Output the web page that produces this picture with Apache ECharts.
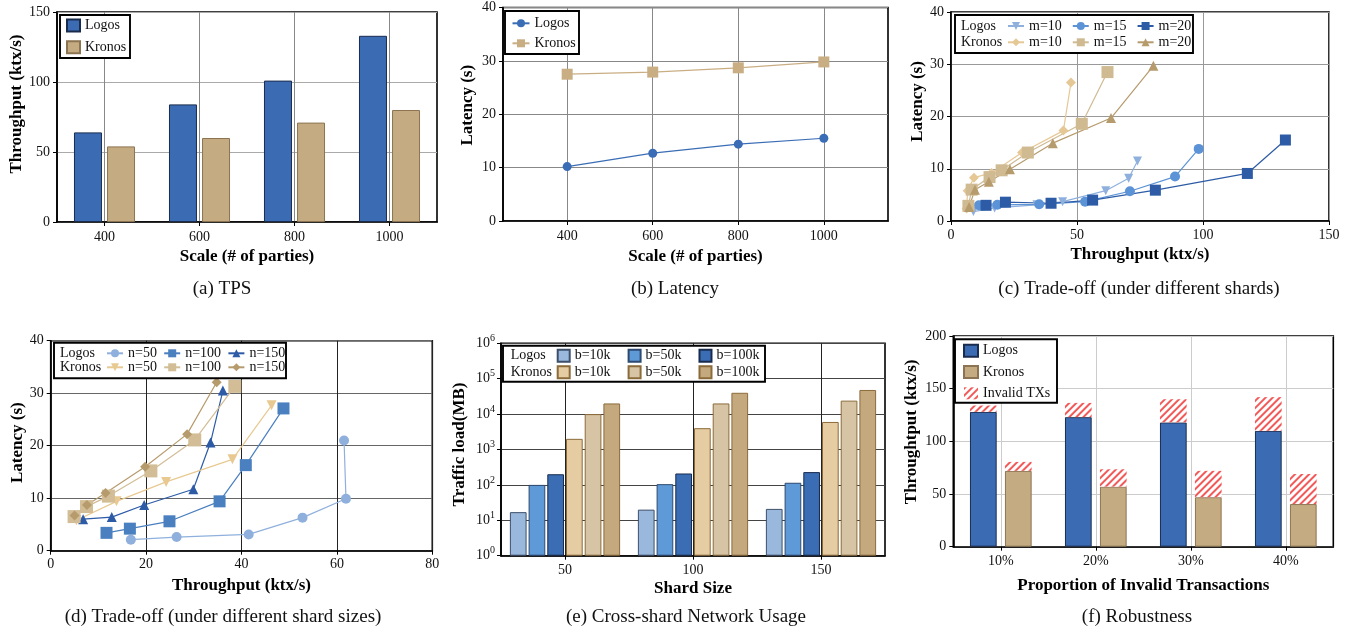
<!DOCTYPE html>
<html><head><meta charset="utf-8">
<script src="https://cdn.jsdelivr.net/npm/echarts@6/dist/echarts.min.js"></script>
<style>html,body{margin:0;padding:0;background:#fff}#c{width:1353px;height:632px}</style>
</head><body><div id="c"></div>
<script>
// ---------- (a) TPS ----------
const scaleCats = ['400', '600', '800', '1000'];
const tpsLogos = [64, 84, 101, 133];
const tpsKronos = [54, 60, 71, 80];
// ---------- (b) Latency ----------
const scaleVals = [400, 600, 800, 1000];
const latLogos = [10.2, 12.7, 14.4, 15.5];
const latKronos = [27.5, 27.9, 28.7, 29.8];
// ---------- (c) Trade-off (shards) [throughput, latency] ----------
const cLogosM10 = [[8.9, 1.8], [17.3, 2.5], [34.1, 3.1], [44.3, 3.7], [61.4, 5.8], [70.5, 8.2], [74.0, 11.5]];
const cLogosM15 = [[11.1, 3.0], [18.4, 3.1], [35.0, 3.2], [53.2, 3.7], [71.0, 5.7], [88.9, 8.5], [98.3, 13.8]];
const cLogosM20 = [[13.9, 3.0], [21.6, 3.6], [39.7, 3.4], [56.2, 4.0], [81.1, 5.9], [117.6, 9.1], [132.7, 15.5]];
const cKronosM10 = [[6.2, 2.4], [6.6, 5.8], [9.1, 8.3], [16.1, 9.2], [28.2, 13.1], [44.6, 17.3], [47.6, 26.5]];
const cKronosM15 = [[6.9, 2.9], [8.2, 6.0], [15.3, 8.4], [20.1, 9.7], [30.5, 13.1], [51.9, 18.6], [62.1, 28.5]];
const cKronosM20 = [[7.2, 2.7], [9.5, 6.0], [15.0, 7.5], [23.4, 9.9], [40.4, 14.9], [63.5, 19.7], [80.3, 29.7]];
// ---------- (d) Trade-off (shard sizes) ----------
const dLogosN50 = [[16.8, 2.1], [26.4, 2.6], [41.5, 3.1], [52.8, 6.3], [61.9, 9.9], [61.5, 21.0]];
const dLogosN100 = [[11.7, 3.4], [16.6, 4.2], [24.9, 5.6], [35.4, 9.4], [40.9, 16.3], [48.8, 27.1]];
const dLogosN150 = [[6.8, 6.0], [12.8, 6.4], [19.6, 8.7], [29.9, 11.7], [33.5, 20.6], [36.1, 30.5]];
const dKronosN50 = [[5.4, 5.8], [13.8, 9.4], [24.2, 13.1], [38.1, 17.4], [46.3, 27.7]];
const dKronosN100 = [[4.9, 6.5], [7.5, 8.4], [12.1, 10.4], [21.0, 15.2], [30.2, 21.1], [38.6, 31.3]];
const dKronosN150 = [[5.0, 6.7], [7.6, 8.7], [11.5, 11.0], [19.8, 16.0], [28.6, 22.2], [34.8, 32.1]];
// ---------- (e) Cross-shard network usage (MB) ----------
const shardCats = ['50', '100', '150'];
const eLogos10k = [17, 20, 21];
const eLogos50k = [100, 105, 115];
const eLogos100k = [200, 210, 230];
const eKronos10k = [2000, 4000, 6000];
const eKronos50k = [10000, 20000, 24000];
const eKronos100k = [20000, 40000, 48000];
// ---------- (f) Robustness ----------
const invalidCats = ['10%', '20%', '30%', '40%'];
const fLogos = [128, 123, 118, 110];
const fKronos = [72, 57, 47, 40.5];
const fLogosInvalid = [6, 13.5, 22, 32];
const fKronosInvalid = [8.5, 16.5, 25, 28.5];

const FONT = 'Liberation Serif';
const labelStyle = { fontFamily: FONT, fontSize: 14, color: '#111' };
const nameStyle = { fontFamily: FONT, fontSize: 17, fontWeight: 'bold', color: '#000' };
const tick = { show: true, inside: false, length: 4, lineStyle: { color: '#000', width: 1 } };
const axLine = { show: true, onZero: false, lineStyle: { color: '#000', width: 1.6 } };

const C = {
  logos: '#3b6cb3', logosB: '#1a2c4e', kronos: '#c4ab81', kronosB: '#8c7452',
  lb1: '#8fb0dc', lb2: '#5b93d6', lb3: '#2d5ba6',
  kt1: '#e6c896', kt2: '#cfba92', kt3: '#b69b6d'
};
const triDown = 'path://M0,0 L10,0 L5,9 Z';

const grids = [
  { left: 57, top: 12, width: 380, height: 210 },
  { left: 503, top: 7.5, width: 385, height: 213.5 },
  { left: 951, top: 12, width: 378, height: 209 },
  { left: 50.7, top: 340.7, width: 381.6, height: 210 },
  { left: 501, top: 343.3, width: 384, height: 212.4 },
  { left: 953.3, top: 336, width: 380, height: 210.7 }
].map(g => Object.assign({ show: true, borderColor: '#000', borderWidth: 1.6, containLabel: false }, g));

const plain = v => String(v);
function valAxis(idx, min, max, interval, name, gap, split, extra) {
  return Object.assign({
    type: 'value', gridIndex: idx, min: min, max: max, interval: interval,
    name: name, nameLocation: 'middle', nameGap: gap, nameTextStyle: nameStyle,
    axisLine: axLine, axisTick: tick, axisLabel: Object.assign({ margin: 7, formatter: plain }, labelStyle),
    splitLine: { show: true, lineStyle: { color: split, width: 1 } }
  }, extra || {});
}
function catAxis(idx, data, name, gap, split) {
  return {
    type: 'category', gridIndex: idx, data: data,
    name: name, nameLocation: 'middle', nameGap: gap, nameTextStyle: nameStyle,
    axisLine: axLine, axisTick: Object.assign({ alignWithLabel: true }, tick),
    axisLabel: Object.assign({ margin: 8 }, labelStyle),
    splitLine: { show: true, alignWithLabel: true, lineStyle: { color: split, width: 1 } }
  };
}
function yNamePad(p) { return Object.assign({}, nameStyle, { padding: [0, 0, 0, p] }); }

const xAxes = [
  catAxis(0, scaleCats, 'Scale (# of parties)', 26, '#888'),
  valAxis(1, 250, 1150, null, 'Scale (# of parties)', 27, '#888', {
    axisTick: Object.assign({ customValues: scaleVals }, tick),
    axisLabel: Object.assign({ margin: 8, customValues: scaleVals, formatter: plain }, labelStyle)
  }),
  valAxis(2, 0, 150, 50, 'Throughput (ktx/s)', 25, '#999'),
  valAxis(3, 0, 80, 20, 'Throughput (ktx/s)', 26, '#222'),
  catAxis(4, shardCats, 'Shard Size', 24, '#222'),
  catAxis(5, invalidCats, 'Proportion of Invalid Transactions', 30, '#ccc')
];
const yAxes = [
  valAxis(0, 0, 150, 50, 'Throughput (ktx/s)', 31, '#aaa', { nameTextStyle: yNamePad(26) }),
  valAxis(1, 0, 40, 10, 'Latency (s)', 27, '#888', { nameTextStyle: yNamePad(18) }),
  valAxis(2, 0, 40, 10, 'Latency (s)', 25, '#999', { nameTextStyle: yNamePad(30) }),
  valAxis(3, 0, 40, 10, 'Latency (s)', 25, '#666', { nameTextStyle: yNamePad(6) }),
  {
    type: 'log', gridIndex: 4, min: 1, max: 1000000, logBase: 10, splitNumber: 6,
    name: 'Traffic load(MB)', nameLocation: 'middle', nameGap: 33, nameTextStyle: yNamePad(10),
    axisLine: axLine, axisTick: tick,
    axisLabel: {
      margin: 6, fontFamily: FONT, color: '#111',
      formatter: v => '{b|10}{s|' + Math.round(Math.log10(v)) + '}',
      rich: {
        b: { fontFamily: FONT, fontSize: 14, color: '#111', lineHeight: 20 },
        s: { fontFamily: FONT, fontSize: 10, color: '#111', lineHeight: 10, verticalAlign: 'top' }
      }
    },
    splitLine: { show: true, lineStyle: { color: '#444', width: 1 } }
  },
  valAxis(5, 0, 200, 50, 'Throughtput (ktx/s)', 33, '#ccc', { nameTextStyle: yNamePad(19) })
];

function lineS(name, idx, data, color, symbol, size) {
  return {
    type: 'line', name: name, xAxisIndex: idx, yAxisIndex: idx, data: data,
    symbol: symbol, symbolSize: size, showSymbol: true, animation: false,
    lineStyle: { color: color, width: 1.2 }, itemStyle: { color: color }
  };
}
function barS(name, idx, data, color, border, width, gap, extra) {
  return Object.assign({
    type: 'bar', name: name, xAxisIndex: idx, yAxisIndex: idx, data: data,
    barWidth: width, barGap: gap, animation: false,
    itemStyle: { color: color, borderColor: border, borderWidth: 1 }
  }, extra || {});
}
const hatch = {
  color: '#ffffff', borderWidth: 0,
  decal: { symbol: 'rect', symbolSize: 1, dashArrayX: [1, 0], dashArrayY: [2, 3], rotation: -Math.PI / 4, color: '#f25a5a' }
};
const pairs = (xs, ys) => xs.map((x, i) => [x, ys[i]]);

const series = [
  barS('a:Logos', 0, tpsLogos, C.logos, C.logosB, 28, '18%'),
  barS('a:Kronos', 0, tpsKronos, C.kronos, C.kronosB, 28, '18%'),
  lineS('b:Logos', 1, pairs(scaleVals, latLogos), '#3a6db5', 'circle', 9),
  lineS('b:Kronos', 1, pairs(scaleVals, latKronos), '#c9ae84', 'rect', 11),
  lineS('c1:m=10', 2, cLogosM10, C.lb1, triDown, 9),
  lineS('c1:m=15', 2, cLogosM15, C.lb2, 'circle', 10),
  lineS('c1:m=20', 2, cLogosM20, C.lb3, 'rect', 11),
  lineS('c2:m=10', 2, cKronosM10, C.kt1, 'diamond', 10),
  lineS('c2:m=15', 2, cKronosM15, C.kt2, 'rect', 12),
  lineS('c2:m=20', 2, cKronosM20, C.kt3, 'triangle', 10),
  lineS('d1:n=50', 3, dLogosN50, C.lb1, 'circle', 10),
  lineS('d1:n=100', 3, dLogosN100, '#4a7fc0', 'rect', 12),
  lineS('d1:n=150', 3, dLogosN150, C.lb3, 'triangle', 10),
  lineS('d2:n=50', 3, dKronosN50, '#e8c991', triDown, 10),
  lineS('d2:n=100', 3, dKronosN100, '#d2bd96', 'rect', 13),
  lineS('d2:n=150', 3, dKronosN150, C.kt3, 'diamond', 10),
  barS('e1:b=10k', 4, eLogos10k, '#9ab8dc', '#3d4f6a', 16.7, '12%'),
  barS('e1:b=50k', 4, eLogos50k, '#5f9ad8', '#2e4a70', 16.7, '12%'),
  barS('e1:b=100k', 4, eLogos100k, '#3a6db3', '#1a2c4e', 16.7, '12%'),
  barS('e2:b=10k', 4, eKronos10k, '#e6cca2', '#8b6b3a', 16.7, '12%'),
  barS('e2:b=50k', 4, eKronos50k, '#d7c4a5', '#8b6b3a', 16.7, '12%'),
  barS('e2:b=100k', 4, eKronos100k, '#c4a97e', '#8b6b3a', 16.7, '12%'),
  barS('f:Logos', 5, fLogos, C.logos, C.logosB, 26.7, '31%', { stack: 'L' }),
  barS('f:Kronos', 5, fKronos, C.kronos, C.kronosB, 26.7, '31%', { stack: 'K' }),
  barS('f:Invalid TXs', 5, fLogosInvalid, '#fff', '#fff', 26.7, '31%', { stack: 'L', itemStyle: hatch }),
  barS('f:Invalid TXs', 5, fKronosInvalid, '#fff', '#fff', 26.7, '31%', { stack: 'K', itemStyle: hatch })
];

const legTxt = { fontFamily: FONT, fontSize: 14, color: '#111', lineHeight: 14 };
const fmt = n => n.slice(n.indexOf(':') + 1);
function leg(data, left, top, opts) {
  return Object.assign({
    data: data, left: left, top: top, padding: 0, z: 20, selectedMode: false,
    formatter: fmt, textStyle: legTxt, itemWidth: 18, itemHeight: 10, itemGap: 8
  }, opts || {});
}
const legends = [
  leg(['a:Logos', 'a:Kronos'], 66, 18.5, { orient: 'vertical', icon: 'rect', itemWidth: 13, itemHeight: 12, itemGap: 7.8 }),
  leg(['b:Logos', 'b:Kronos'], 511.5, 16.3, { orient: 'vertical', itemWidth: 17, itemGap: 6 }),
  leg(['c1:m=10', 'c1:m=15', 'c1:m=20'], 1007, 19, { itemWidth: 16, itemGap: 10 }),
  leg(['c2:m=10', 'c2:m=15', 'c2:m=20'], 1007, 35.3, { itemWidth: 16, itemGap: 10 }),
  leg(['d1:n=50', 'd1:n=100', 'd1:n=150'], 106, 346.3, { itemWidth: 16, itemGap: 6.3 }),
  leg(['d2:n=50', 'd2:n=100', 'd2:n=150'], 106, 360.3, { itemWidth: 16, itemGap: 6.3 }),
  leg(['e1:b=10k', 'e1:b=50k', 'e1:b=100k'], 556.7, 348.7, { icon: 'rect', itemWidth: 12, itemHeight: 12, itemGap: 17 }),
  leg(['e2:b=10k', 'e2:b=50k', 'e2:b=100k'], 556.7, 365.3, { icon: 'rect', itemWidth: 12, itemHeight: 12, itemGap: 17 }),
  leg(['f:Logos', 'f:Kronos', 'f:Invalid TXs'], 963, 343.7, { orient: 'vertical', icon: 'rect', itemWidth: 14, itemHeight: 12, itemGap: 7.3 })
];

function box(x, y, w, h) {
  return { type: 'rect', z: 10, shape: { x: x, y: y, width: w, height: h }, style: { fill: '#fff', stroke: '#000', lineWidth: 1.9 } };
}
function txt(s, x, y, size, align) {
  return {
    type: 'text', z: 20, x: x, y: y,
    style: { text: s, font: size + 'px "' + FONT + '"', fill: '#111', align: align, textAlign: align, verticalAlign: 'middle', textVerticalAlign: 'middle' }
  };
}
const graphics = [
  box(60, 15, 70, 43), box(505, 11, 74, 43), box(955, 15, 238, 38),
  box(54, 342.7, 232, 35.6), box(503, 345.7, 262, 36), box(955, 339.3, 102, 63.4),
  txt('Logos', 961, 26, 14, 'left'), txt('Kronos', 961, 42.3, 14, 'left'),
  txt('Logos', 60, 353.3, 14, 'left'), txt('Kronos', 60, 367.3, 14, 'left'),
  txt('Logos', 510.7, 355.7, 14, 'left'), txt('Kronos', 510.7, 372.3, 14, 'left'),
  txt('(a) TPS', 222, 289, 19, 'center'),
  txt('(b) Latency', 675, 289, 19, 'center'),
  txt('(c) Trade-off (under different shards)', 1139, 289, 19, 'center'),
  txt('(d) Trade-off (under different shard sizes)', 223, 617, 19, 'center'),
  txt('(e) Cross-shard Network Usage', 686, 617, 19, 'center'),
  txt('(f) Robustness', 1137, 617, 19, 'center')
];

const chart = echarts.init(document.getElementById('c'), null, { renderer: 'canvas' });
chart.setOption({
  backgroundColor: '#fff', animation: false,
  grid: grids, xAxis: xAxes, yAxis: yAxes, series: series, legend: legends, graphic: graphics
});
</script></body></html>
